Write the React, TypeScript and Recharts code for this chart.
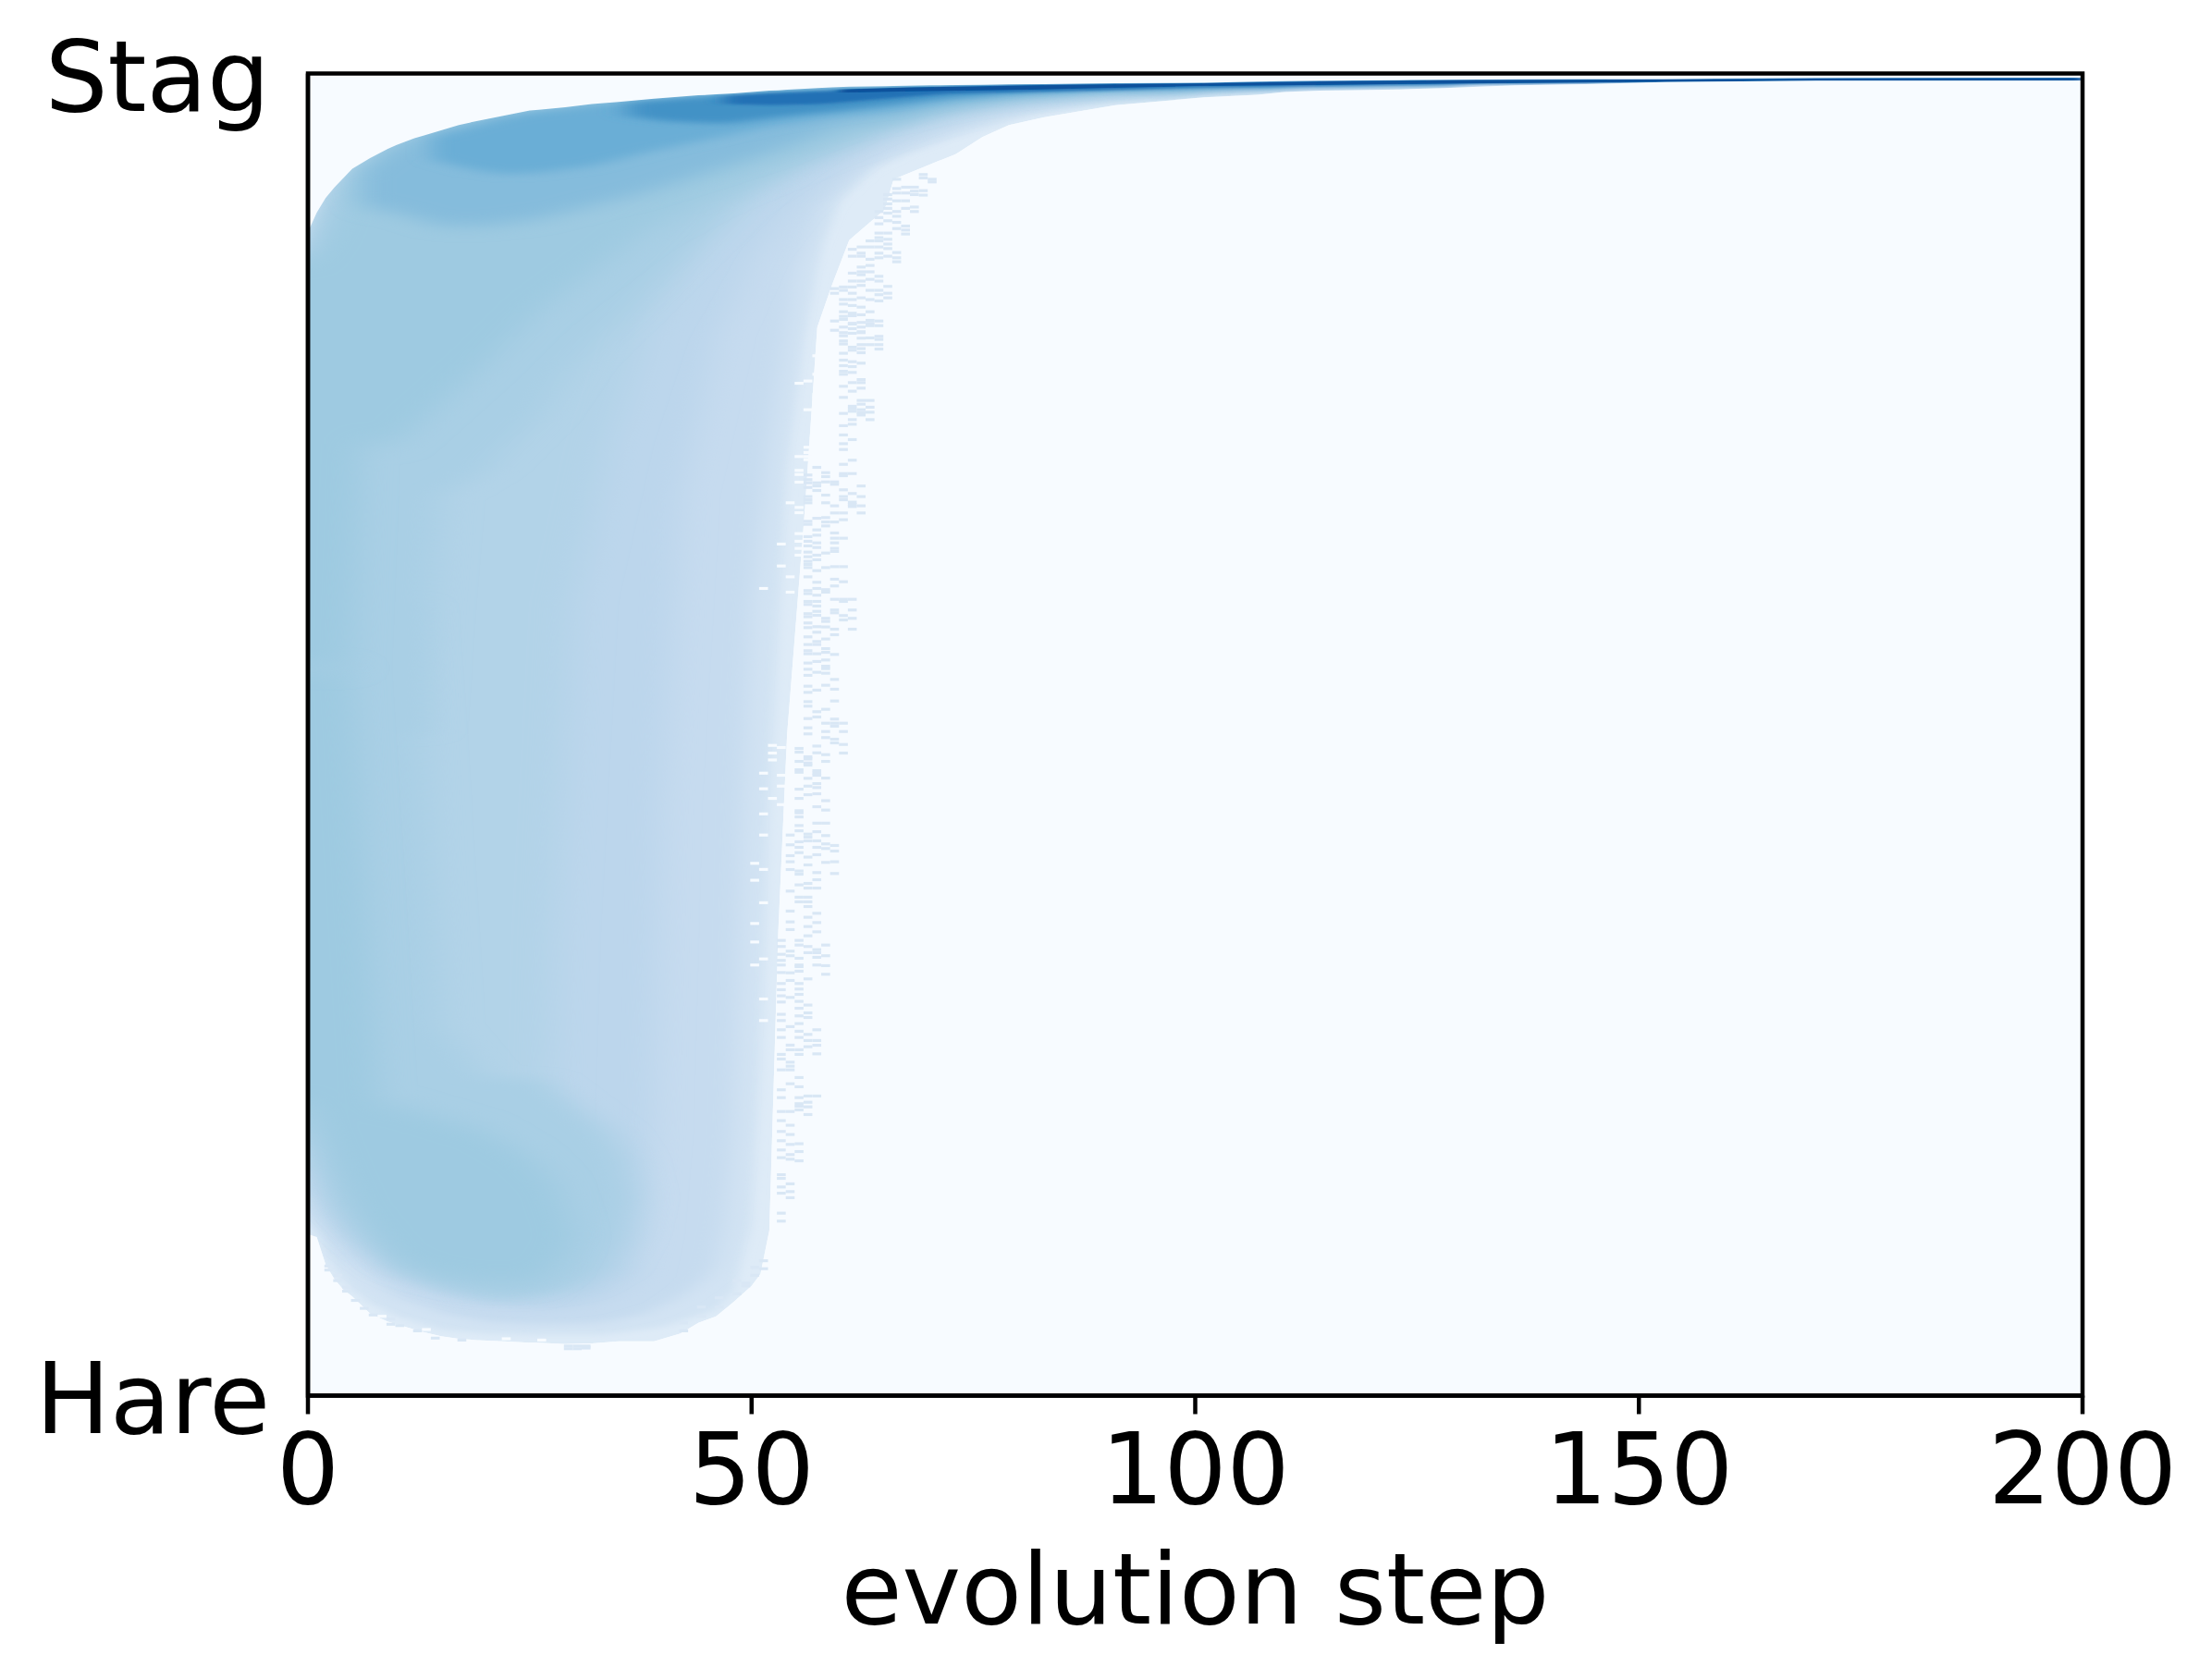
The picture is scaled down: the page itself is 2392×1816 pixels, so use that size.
import {
  Area,
  CartesianGrid,
  ComposedChart,
  ReferenceArea,
  XAxis,
  YAxis,
} from "recharts"

const font = "'DejaVu Sans', sans-serif"
const xTicks = [0, 50, 100, 150, 200]
const yTicks = [0, 100]
const yNames = ["Hare", "Stag"]
const background = "#f7fbff"

// density contours, palest first. y is share of stag hunters in percent
const outerSteps = [0,1,2,3,4,5,7,9,10,12,13,15,17,19,22,25,26,29,32,35,39,42,44,46,48,50,51,52,53,54,56,57.4,59,61,65,66,70,73,76,79,83,91,101,107,110,114,118,123,128,136,144,153,170,200]
const outerLo = [12.2,12,9.9,8.8,8,7.5,6.2,5.6,5.4,5,4.8,4.5,4.3,4.2,4.1,4,4,3.9,3.95,4.1,4.1,4.7,5.5,6,7.1,8.3,9.2,12.5,35,50,67,80.8,83.9,87.4,89.7,92,93.1,93.9,95.2,96.1,96.7,97.6,98.2,98.4,98.6,98.7,98.75,98.8,98.9,99.1,99.2,99.35,99.45,99.45]
const outerHi = [88,89.5,90.6,91.4,92.1,92.8,93.6,94.3,94.6,95.1,95.3,95.7,96.1,96.4,96.8,97.2,97.25,97.45,97.7,97.85,98.1,98.25,98.35,98.42,98.5,98.6,98.65,98.7,98.73,98.77,98.85,98.9,98.95,99,99.03,99.05,99.1,99.12,99.15,99.18,99.2,99.27,99.3,99.38,99.42,99.46,99.48,99.5,99.52,99.56,99.58,99.58,99.69,99.69]

const l2Steps = [0,1,2,3,5,7,10,15,20,26,33,40,46,48,50,51,52,54,56,58,60,64,70,76,82,90,100,110,125,145]
const l2Lo = [13,12.4,10.6,9.5,8,7,6,5,4.7,4.6,4.6,5.2,6.5,8,13,25,45,70,80,87,90.5,93,94.5,95.8,96.9,97.8,98.35,98.7,98.9,99.25]
const l2Hi = [87.5,89,90.1,91,92.3,93.2,94.2,95.4,96.3,97,97.6,98,98.3,98.4,98.5,98.55,98.6,98.7,98.8,98.85,98.9,99,99.05,99.1,99.15,99.22,99.28,99.38,99.48,99.55]

const l3Steps = [0,2,4,7,10,15,20,26,33,38,42,44,45,46,47,48,49,50,52,55,58,62,66,72,78,85,95,105,120,140]
const l3Lo = [15,12.5,10.5,9,7.5,6.3,5.6,5.4,5.5,6.2,7.5,8.5,9,10,13,20,45,60,72,85,90,92.5,94,95.6,96.8,97.6,98.3,98.6,98.85,99.2]
const l3Hi = [87,90,92,93.5,94.7,95.9,96.7,97.3,97.9,98.2,98.4,98.45,98.5,98.52,98.55,98.6,98.62,98.65,98.7,98.8,98.87,98.97,99.02,99.08,99.15,99.22,99.25,99.3,99.45,99.52]

const l4Steps = [0,3,6,10,15,20,26,30,34,37,38,39,40,42,46,50,54,58,62,66,70,76,84,95,110,130]
const l4Lo = [17,13,11,9,7.6,6.8,6.5,6.7,7.5,9,12,20,45,68,80,86,89.5,92,94,95.5,96.5,97.6,98.3,98.6,98.9,99.15]
const l4Hi = [86.5,91,92.8,94.4,95.6,96.5,97.2,97.6,97.95,98.15,98.2,98.25,98.3,98.4,98.55,98.65,98.75,98.85,98.95,99,99.05,99.12,99.2,99.27,99.38,99.5]

const l45Steps = [0,3,6,10,15,20,24,26,27,28,30,34,38,44,50,56,62,68,75,85,100]
const l45Lo = [19,14,12,9.5,8,7.2,7,8,12,35,60,72,80,87,91,94,96,97.4,98.3,98.6,98.8]
const l45Hi = [86,90.7,92.6,94.3,95.5,96.4,96.9,97.1,97.2,97.3,97.5,97.85,98.1,98.45,98.65,98.82,98.93,99.03,99.12,99.2,99.31]

const l5BottomSteps = [0,3,6,8,10,12,13,15,20,26,30,34,36,37]
const l5BottomLo = [20,15,12,11,10,9.2,8.9,8.5,7.6,7.5,8,9.5,12,15]
const l5BottomHi = [60,60,60,60,60,60,50,28,24,24,22,20,18,15]

const l5TopSteps = [0,3,6,8,10,12,13,14,15,20,26,30,36,42,48,55,60,65,72,80,90,105]
const l5TopLo = [50,50,50,50,50,50,50,60,68,70,74,78,82,86,90,93,94.5,96.2,97.6,98.2,98.5,98.7]
const l5TopHi = [85,91,93,93.9,94.8,95.3,95.5,95.75,96,96.8,97.4,97.7,98.1,98.4,98.6,98.8,98.92,99,99.08,99.17,99.25,99.33]

const l6BottomSteps = [0,3,5,8,10,15,20,25,28,30]
const l6BottomLo = [22,17,14,11.5,10,8.9,8.5,8.5,9.5,12]
const l6BottomHi = [55,55,55,22,22,21,20,18,16,12]

const l6TopSteps = [0,2,4,5,6,10,15,20,26,32,38,45,52,60,66,72,80,90,100]
const l6TopLo = [55,55,55,55,72,72,75,78,82,85,88,90.5,92.5,94.5,95.8,97,98,98.65,98.75]
const l6TopHi = [86,88,92,92.8,93.4,95,96.2,97,97.55,97.9,98.2,98.5,98.7,98.88,98.97,99.05,99.15,99.23,99.3]

const l7Steps = [6,10,15,20,26,32,38,45,52,60,66,72,80,90,100]
const l7Lo = [90,89.5,88.5,88.5,89,90,91,92.5,94,96,96.6,97.5,98.2,98.75,98.85]
const l7Hi = [92.6,94.6,96,96.8,97.4,97.85,98.15,98.45,98.65,98.85,98.95,99.02,99.15,99.24,99.3]

const l8Steps = [14,18,22,26,32,38,45,52,60,66,72,80,90,100,110]
const l8Lo = [93.5,92.8,92.4,92.5,93,94,95,96,96.8,97.2,97.9,98.4,98.75,98.87,98.95]
const l8Hi = [95.2,95.9,96.65,97.1,97.6,98,98.3,98.55,98.8,98.9,99,99.13,99.23,99.29,99.37]

const l9Steps = [36,40,47,54,60,66,72,80,90,100,115,130]
const l9Lo = [96.8,96.4,96.2,96.8,97.2,97.7,98.2,98.6,98.85,98.9,99.02,99.15]
const l9Hi = [97.8,98,98.35,98.6,98.8,98.9,98.97,99.12,99.22,99.29,99.44,99.54]

const l10Steps = [47,52,58,65,72,80,90,100,115,130,150,175,200]
const l10Lo = [97.7,97.6,97.7,98.1,98.5,98.6,98.75,98.95,99.08,99.2,99.3,99.42,99.45]
const l10Hi = [98.3,98.5,98.65,98.8,98.95,99.1,99.2,99.28,99.43,99.54,99.56,99.66,99.68]

const l11Steps = [60,68,75,82,90,100,115,130,150,170,200]
const l11Lo = [98.55,98.65,98.72,98.8,98.92,99.05,99.14,99.25,99.36,99.46,99.48]
const l11Hi = [98.8,98.95,99.02,99.1,99.17,99.25,99.4,99.5,99.54,99.62,99.66]

// name, colour, blur across x and y, then the contour itself
const bands = [
  ["l2", "#d2e3f3", "6 3", l2Steps, l2Lo, l2Hi],
  ["l3", "#c6dbef", "12 3", l3Steps, l3Lo, l3Hi],
  ["l4", "#bcd6ec", "18 4", l4Steps, l4Lo, l4Hi],
  ["l45", "#b2d3e8", "20 4", l45Steps, l45Lo, l45Hi],
  ["l5b", "#a9cfe5", "20 6", l5BottomSteps, l5BottomLo, l5BottomHi],
  ["l5t", "#a9cfe5", "20 6", l5TopSteps, l5TopLo, l5TopHi],
  ["l6b", "#9ecae1", "18 10", l6BottomSteps, l6BottomLo, l6BottomHi],
  ["l6t", "#9ecae1", "18 10", l6TopSteps, l6TopLo, l6TopHi],
  ["l7", "#85bcdc", "16 8", l7Steps, l7Lo, l7Hi],
  ["l8", "#6baed6", "12 4", l8Steps, l8Lo, l8Hi],
  ["l9", "#4292c6", "14 3", l9Steps, l9Lo, l9Hi],
  ["l10", "#2171b5", "10 1.5", l10Steps, l10Lo, l10Hi],
  ["l11", "#08519c", "6 0.5", l11Steps, l11Lo, l11Hi],
] as const

// stray single cells past the solid edge, one list of y values per step column
const strayCols: [number, number[]][] = [
  [2, [9.8,9.5]],
  [3, [9.1,8.7]],
  [4, [8.2,7.9]],
  [5, [7.2]],
  [6, [6.6]],
  [7, [6.1]],
  [9, [5.8,5.4]],
  [10, [5.3]],
  [12, [4.9]],
  [14, [4.35]],
  [17, [4.2]],
  [29, [3.75,3.55]],
  [30, [3.75,3.55]],
  [31, [3.75,3.6]],
  [42, [5.5,4.9]],
  [44, [6.7,6]],
  [46, [7.4,6.7]],
  [48, [8.7,7.7]],
  [49, [8.5,8.3]],
  [50, [9.7,9.1]],
  [51, [10.2,9.6]],
  [53, [34.43,33.97,33.38,32.92,32.57,32,31.17,30.7,30.24,29.77,28.84,28.37,27.67,27.09,25.81,25.46,24.64,23.13,22.54,21.49,20.8,19.98,19.28,18.58,18,16.71,16.43,15.78,15.31,13.8,13.2]],
  [54, [42.4,41.66,40.84,40.38,39.79,38.16,36.65,35.83,35.25,33.62,33.27,31.98,31.4,30.12,27.91,26.51,26.16,25.22,24.92,24.64,23.59,21.49,20.45,19.75,19,18.23,17.88,16.02,15.43,14.97]],
  [55, [48.95,48.67,47.97,47.34,47.15,45.87,45.17,44.24,44.08,43.77,43.12,42.72,41.89,41.47,41.07,39.68,39.44,38.63,37.7,37.35,34.43,34.08,33.08,32.57,32.45,32.1,31.17,30.75,30.35,29.82,29.3,28.72,28.14,27.56,27.09,26.16,25.81,24.06,23.36,22.54,22.08,21.89,21.61,19.05,18.46,17.76]],
  [56, [69.63,69.28,69.04,68.69,68,67.76,67.53,66.13,65.9,64.97,64.62,64.27,63.8,63.45,63.1,62.87,62.63,61.93,60.89,60.66,60.07,59.84,59.14,58.91,58.44,58.09,57.39,56.81,56.34,56.11,55.41,54.94,54.48,53.66,53.19,52.49,52.15,51.21,50.51,50.05,48.32,48.15,47.85,47.69,46.69,46.1,45.45,42.47,42.24,41.96,40.73,40.14,38.74,38.39,37.7,37.35,36.99,36.18,35.48,34.78,33.97,33.5,31.52,29.54,28.95,28.6,27.32,26.86,26.39,22.66,22.19,21.84,21.26]],
  [57, [70.21,69.04,68.81,68.46,66.36,65.48,65.08,64.5,64.15,63.57,63.22,62.4,61.52,61.05,60.54,60.07,59.72,59.32,59.02,58.16,57.74,57.04,56.81,56.11,55.53,54.71,53.36,51.73,51.33,49.13,48.62,47.27,47.08,46.92,46.29,45.99,45.52,44.54,43.3,42.65,41.96,41.47,40.91,39.56,39.02,38.39,36.48,35.78,35.08,33.73,33.5,33.15,32.57,27.67,26.86,26.5,25.85,22.66]],
  [58, [69.81,69.51,69.11,68.11,67.53,66.41,66.08,65.78,63.73,62.63,60.96,60.77,58.79,58.56,58.14,57.23,56.5,56.22,55.64,55.17,54.99,54.64,53.73,51.91,50.86,50.23,49.77,48.48,47.97,46.71,45,44.29,43.3,42.36,41.73,41.38,40.33,34.08,33.27,32.52,31.87]],
  [59, [83.73,83.38,81.28,80.58,69.11,68.93,67.3,66.76,66.08,65.25,64.85,64.5,64.08,63.85,62.7,61.75,61.24,60.23,59.42,59.21,57.97,57.55,56.06,54.17,53.43,52.54,51.17,50.86,50.63,49.65,49.37,41.61,41.19,40.38,39.49]],
  [60, [83.85,83.6,82.9,82.56,81.98,81.4,80.82,81.63,80.4,80.16,79.77,79.54,78.84,78.32,77.9,77.48,77.25,76.34,75.5,74.29,73.36,72.66,72,71.56,70.44,69.74,69.58,68.51,68,67.76,66.76,66.25,64.85,62.7,61.56,60.23,60.07,59,58.67,50.86,50.23,49.25,48.6]],
  [61, [86.7,86.18,84.9,84.3,83.85,83.38,82.9,82.45,81.87,81.1,80.7,81.68,81.05,80.35,79.3,79.07,78.2,77.83,77.39,76.62,75.97,74.83,74.64,74.45,73.82,73.47,72.31,70.75,69.74,68.23,67.58,67.41,67.25,60.23,59.42,58.79,57.97]],
  [62, [86.88,86.41,86.18,85.36,85,84.78,84.3,83.97,83.03,82.33,81.75,81.17,80.82,80.47,80.4,79.98,79.49,79.19,78.88,78.09,76.85,76.62,76.2,75.27,74.99,74.57,74.34,74.17,68.8,68,67.3,66.76]],
  [63, [87.34,86.88,85.95,85.48,85,84.43,83.6,82.9,81.98,81.33,81.1,80.93,80,79.49,75.27,74.76,74.38,73.82]],
  [64, [89.56,89.1,88.63,87.93,87.58,87.34,86.88,86.41,86.06,84.66,84.3,83.6,83.27,82.8,81.28,80.93,80.12,79.89,79.49,79.16]],
  [65, [90.84,90.5,90.14,89.8,89.44,88.86,87.93,87.46,87.1,86.76,86.18,83.9,83.38,83.03]],
  [66, [92,91.3,90.96,90.37,89.56,89.2,88.74,88.27,86.46,86.06,85.76]],
  [67, [91.4,90.96,90.37,89.8,88.46,88.16,87.86]],
  [68, [91.4,91.1,90.84,89.9,89.56]],
  [69, [92.36,92.1,91.14,90.8]],
  [70, [92,91.8]],
]

// empty cells that cut into the solid edge
const gapCols: [number, number[]][] = [
  [8, [6]],
  [13, [5]],
  [22, [4.3]],
  [26, [4.2]],
  [50, [40.26,38.98,35.71,34.31,32.57]],
  [51, [47.08,45.9,44,42.4,39.8,37.28,33.03,30,28.37,61.05]],
  [52, [49.18,48.6,48.08,45.17]],
  [53, [49.02,46.92,46.1,44.7,64.41,62.75]],
  [54, [67.53,61.93,60.77]],
  [55, [69.98,69.67,69.09,67.18,66.78,65.2,64.62,64.08,63.57,76.57,71.03]],
  [56, [76.74,74.57,71.73,71.33,71.03,70.79]],
  [57, [78.65,77.25,75.74,75.5,75.1,74.64,74.17,72.94,72.43,72.19]],
  [58, [81.63,79.07,78.25,77.62,76.85,74.76]],
]

const dashes = (cols: [number, number[]][], fill: string) =>
  cols.flatMap(([step, rows]) =>
    rows.map((y) => (
      <ReferenceArea
        key={`${fill}-${step}-${y}`}
        x1={step - 0.15}
        x2={step + 0.85}
        y1={y - 0.11}
        y2={y + 0.11}
        fill={fill}
        fillOpacity={1}
        stroke="none"
        ifOverflow="visible"
      />
    ))
  )

// contours that reach step 0 carry on past it, so the blur does not fade at the axis
const bandData = (steps: readonly number[], lo: readonly number[], hi: readonly number[]) => {
  const rows = steps.map((step, i) => ({ step, band: [lo[i], hi[i]] }))
  return steps[0] === 0 ? [{ step: -40, band: [lo[0], hi[0]] }, ...rows] : rows
}

const axisLine = { stroke: "#000", strokeWidth: 4.5 }

export default function App() {
  return (
    <div style={{ position: "absolute", left: 0, top: 0, width: 2392, height: 1816, background: "#fff" }}>
      <ComposedChart
        width={2392}
        height={1816}
        margin={{ top: 79.5, right: 140, bottom: 0, left: 0 }}
      >
        <defs>
          {bands.map(([name, , blur]) => (
            <filter key={name} id={`soft-${name}`} filterUnits="userSpaceOnUse" x={0} y={0} width={2392} height={1816}>
              <feGaussianBlur stdDeviation={blur} />
            </filter>
          ))}
        </defs>
        <CartesianGrid horizontal={false} vertical={false} fill={background} />
        <Area
          name="outer"
          data={bandData(outerSteps, outerLo, outerHi)}
          dataKey="band"
          type="linear"
          fill="#deebf7"
          fillOpacity={1}
          stroke="none"
          dot={false}
          activeDot={false}
          isAnimationActive={false}
        />
        {bands.map(([name, color, , steps, lo, hi]) => (
          <Area
            key={name}
            name={name}
            data={bandData(steps, lo, hi)}
            dataKey="band"
            type="linear"
            fill={color}
            fillOpacity={1}
            stroke="none"
            filter={`url(#soft-${name})`}
            dot={false}
            activeDot={false}
            isAnimationActive={false}
          />
        ))}
        {/* keeps the outer edge crisp where the blur spills over it */}
        <Area
          name="above"
          data={outerSteps.map((step, i) => ({ step, band: [outerHi[i], 100] }))}
          dataKey="band"
          type="linear"
          fill={background}
          fillOpacity={1}
          stroke="none"
          dot={false}
          activeDot={false}
          isAnimationActive={false}
        />
        <Area
          name="below"
          data={outerSteps.map((step, i) => ({ step, band: [0, outerLo[i]] }))}
          dataKey="band"
          type="linear"
          fill={background}
          fillOpacity={1}
          stroke="none"
          dot={false}
          activeDot={false}
          isAnimationActive={false}
        />
        {dashes(strayCols, "#d9e7f5")}
        {dashes(gapCols, background)}
        <XAxis
          dataKey="step"
          type="number"
          domain={[0, 200]}
          allowDataOverflow
          ticks={xTicks}
          interval={0}
          height={306.5}
          tickSize={20}
          tickMargin={21}
          axisLine={axisLine}
          tickLine={axisLine}
          tick={{ fill: "#000", fontSize: 107, fontFamily: font }}
          label={{
            value: "evolution step",
            position: "insideBottom",
            offset: 60,
            fill: "#000",
            fontSize: 107.5,
            fontFamily: font,
          }}
        />
        <YAxis
          type="number"
          domain={[0, 100]}
          allowDataOverflow
          ticks={yTicks}
          interval={0}
          width={333}
          tickSize={0}
          tickMargin={41}
          axisLine={axisLine}
          tickLine={false}
          tickFormatter={(v: number) => yNames[yTicks.indexOf(v)]}
          tick={{ fill: "#000", fontSize: 107, fontFamily: font, dy: 3 }}
        />
        <ReferenceArea x1={0} x2={200} y1={0} y2={100} fill="none" stroke="#000" strokeWidth={4.5} ifOverflow="visible" />
      </ComposedChart>
    </div>
  )
}
